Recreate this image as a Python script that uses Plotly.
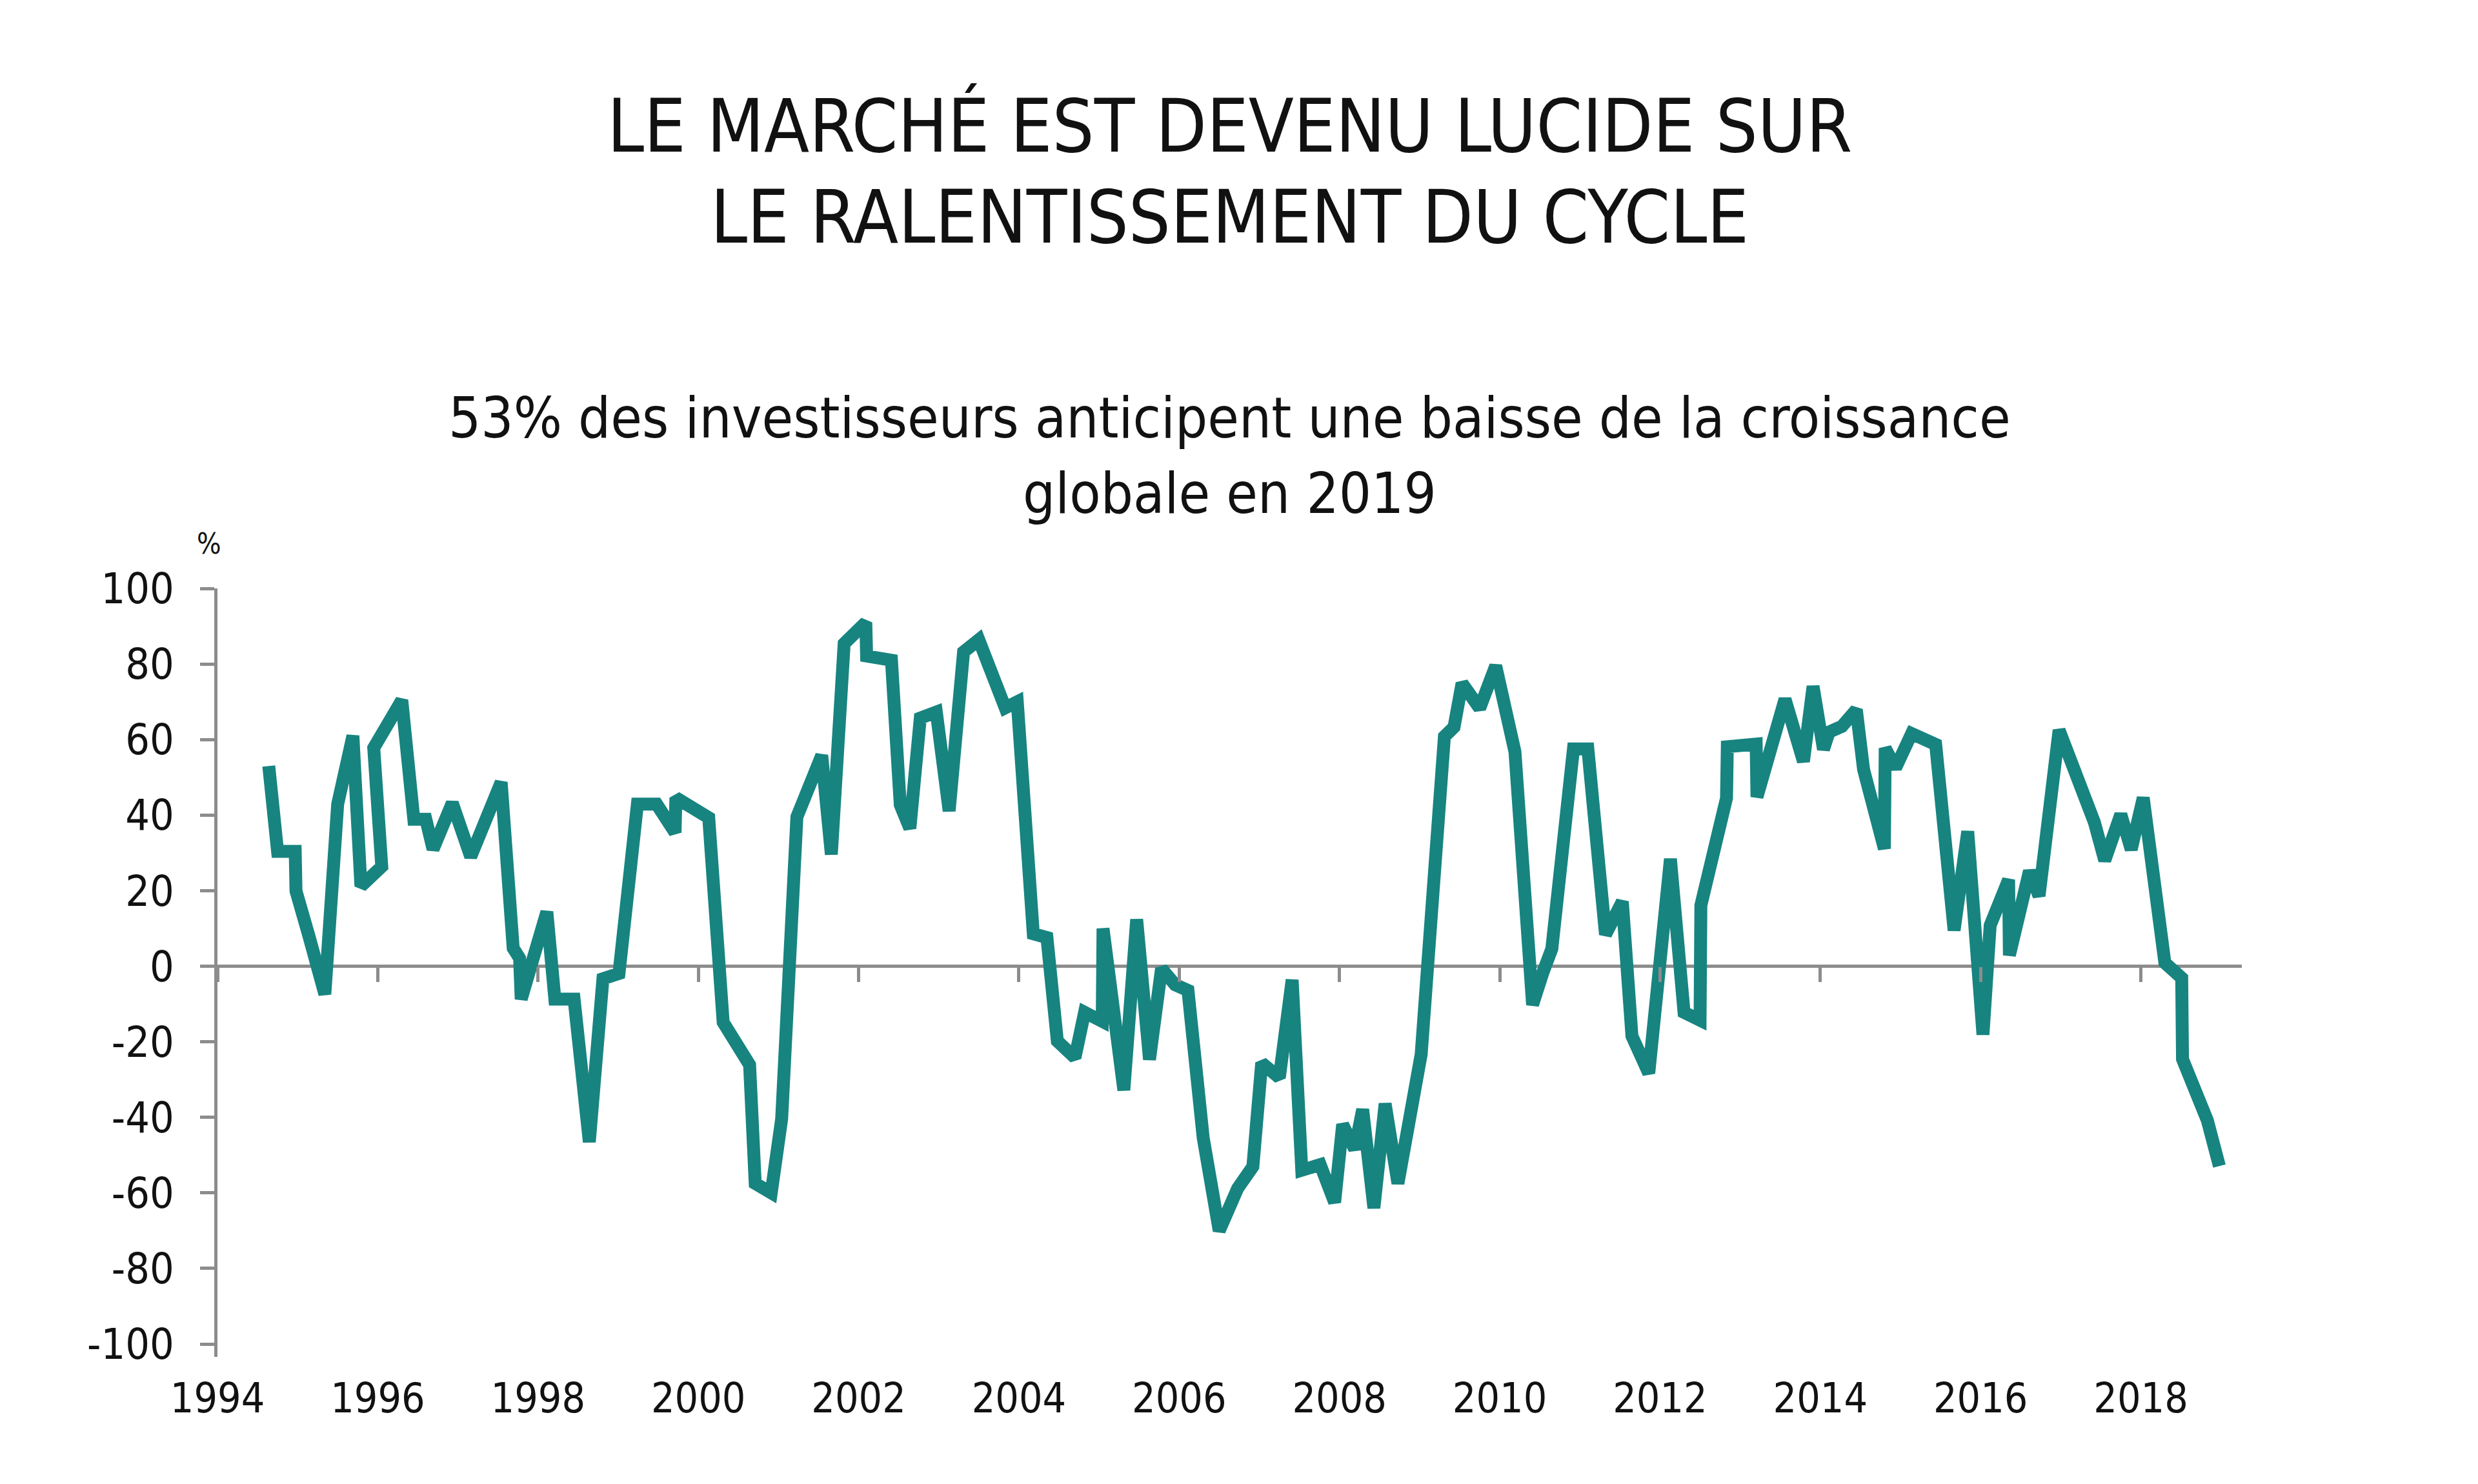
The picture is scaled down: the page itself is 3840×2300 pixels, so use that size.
import plotly.graph_objects as go

# Données (solde net en %, années décimales)
annees = [
    1994.64, 1994.75, 1994.97, 1994.98, 1995.14, 1995.34, 1995.50, 1995.69, 1995.79, 1996.05,
    1995.95, 1996.30, 1996.45, 1996.60, 1996.69, 1996.93, 1997.16, 1997.54, 1997.69, 1997.77,
    1997.79, 1998.11, 1998.21, 1998.45, 1998.64, 1998.81, 1999.01, 1999.24, 1999.48, 1999.71,
    1999.72, 2000.13, 2000.31, 2000.64, 2000.71, 2000.91, 2001.04, 2001.23, 2001.54, 2001.66,
    2001.82, 2002.09, 2002.10, 2002.41, 2002.52, 2002.64, 2002.77, 2002.97, 2003.13, 2003.31,
    2003.50, 2003.83, 2003.98, 2004.18, 2004.35, 2004.48, 2004.70, 2004.82, 2005.04, 2005.05,
    2005.31, 2005.47, 2005.63, 2005.78, 2005.95, 2006.11, 2006.30, 2006.50, 2006.73, 2006.92,
    2007.03, 2007.25, 2007.41, 2007.53, 2007.76, 2007.94, 2008.04, 2008.19, 2008.29, 2008.43,
    2008.57, 2008.73, 2009.02, 2009.31, 2009.43, 2009.53, 2009.75, 2009.95, 2010.19, 2010.41,
    2010.54, 2010.65, 2010.92, 2011.10, 2011.32, 2011.53, 2011.65, 2011.86, 2012.13, 2012.30,
    2012.50, 2012.51, 2012.83, 2012.84, 2013.20, 2013.21, 2013.56, 2013.79, 2013.91, 2014.04,
    2014.11, 2014.27, 2014.45, 2014.54, 2014.80, 2014.81, 2014.94, 2015.14, 2015.44, 2015.67,
    2015.84, 2016.03, 2016.12, 2016.35, 2016.36, 2016.61, 2016.73, 2016.98, 2017.42, 2017.55,
    2017.75, 2017.88, 2018.03, 2018.30, 2018.51, 2018.52, 2018.83, 2018.98,
]
solde = [
    53.0, 30.4, 30.4, 19.9, 8.1, -7.4, 42.9, 61.0, 21.2, 26.4,
    57.8, 70.4, 38.9, 38.9, 31.0, 43.2, 29.0, 48.7, 4.8, 2.1,
    -8.7, 14.4, -8.7, -8.7, -46.5, -3.3, -1.9, 42.9, 42.9, 35.4,
    44.6, 39.3, -14.8, -26.1, -57.5, -60.0, -40.4, 39.5, 55.8, 29.6,
    85.4, 91.0, 82.1, 81.0, 42.7, 36.5, 65.7, 67.3, 41.1, 83.2,
    86.4, 68.4, 70.0, 8.6, 7.6, -19.8, -24.2, -12.2, -14.6, 10.0,
    -32.8, 12.4, -24.7, -0.6, -4.9, -6.4, -45.4, -70.0, -58.8, -53.0,
    -25.6, -29.5, -3.6, -54.0, -52.5, -62.5, -41.9, -48.4, -37.9, -64.0,
    -36.4, -57.5, -23.3, 60.8, 63.3, 74.9, 68.3, 79.5, 56.8, -10.2,
    -1.6, 4.6, 57.5, 57.5, 8.4, 17.1, -18.5, -28.3, 28.4, -12.2,
    -14.3, 16.1, 44.5, 58.1, 58.8, 44.8, 70.7, 54.2, 74.1, 57.4,
    62.0, 63.5, 67.9, 52.1, 31.1, 57.7, 52.5, 61.6, 58.7, 9.5,
    35.7, -18.1, 10.8, 22.9, 2.9, 25.2, 18.6, 62.5, 38.1, 28.0,
    40.2, 30.9, 44.6, 0.9, -3.1, -24.6, -40.8, -52.9,
]

y_ticks = [-100, -80, -60, -40, -20, 0, 20, 40, 60, 80, 100]
y_labels = [str(v) for v in y_ticks]  # tiret simple comme sur l'original

FONT = "DejaVu Sans Condensed, Liberation Sans Narrow, sans-serif"
GRIS = "#8c8c8c"
TEAL = "#178480"

fig = go.Figure()
fig.add_trace(go.Scatter(
    x=annees, y=solde, mode="lines",
    line=dict(color=TEAL, width=20),
    hoverinfo="x+y",
))
# trace invisible pour que l'axe des graduations sur le zéro soit dessiné
fig.add_trace(go.Scatter(
    x=annees[:1], y=solde[:1], xaxis="x2", mode="markers",
    marker=dict(opacity=0), hoverinfo="skip",
))

fig.update_layout(
    width=3840, height=2300,
    margin=dict(l=329, r=374, t=904, b=205),
    paper_bgcolor="white", plot_bgcolor="white",
    showlegend=False,
    font=dict(family=FONT, color="#111111"),
    xaxis=dict(
        range=[1994, 2019.26], tickmode="linear", tick0=1994, dtick=2,
        showgrid=False, zeroline=False, showline=False,
        ticks="outside", ticklen=8, tickcolor="rgba(0,0,0,0)",
        tickfont=dict(size=64, family=FONT, color="#111111"),
    ),
    # axe secondaire pour les graduations posées sur la ligne du zéro
    xaxis2=dict(
        overlaying="x", matches="x", anchor="free", position=103.4 / 203.4,
        side="bottom", tickmode="linear", tick0=1994, dtick=2,
        showgrid=False, zeroline=False, showline=False,
        ticks="outside", ticklen=23, tickwidth=5, tickcolor=GRIS,
        showticklabels=False,
    ),
    yaxis=dict(
        range=[-103.4, 100], tickmode="array", tickvals=y_ticks, ticktext=y_labels,
        showgrid=False, showline=True, linecolor=GRIS, linewidth=5,
        zeroline=True, zerolinecolor=GRIS, zerolinewidth=5,
        ticks="outside", ticklen=22, tickwidth=5, tickcolor=GRIS,
        ticklabelstandoff=27,
        tickfont=dict(size=66, family=FONT, color="#111111"),
    ),
)

titre = ["LE MARCHÉ EST DEVENU LUCIDE SUR", "LE RALENTISSEMENT DU CYCLE"]
sous_titre = ["53% des investisseurs anticipent une baisse de la croissance", "globale en 2019"]

for i, txt in enumerate(titre):
    fig.add_annotation(text=txt, xref="paper", yref="paper", x=0.5,
                       y=1 + (904 - (187 + 142 * i)) / 1191,
                       xanchor="center", yanchor="middle", showarrow=False,
                       font=dict(size=114, family=FONT, color="#111111"))
for i, txt in enumerate(sous_titre):
    fig.add_annotation(text=txt, xref="paper", yref="paper", x=0.5,
                       y=1 + (904 - (639 + 117 * i)) / 1191,
                       xanchor="center", yanchor="middle", showarrow=False,
                       font=dict(size=88, family=FONT, color="#111111"))

fig.add_annotation(text="%", xref="paper", yref="paper", x=-0.004, y=1.058,
                   xanchor="center", yanchor="middle", showarrow=False,
                   font=dict(size=44, family=FONT, color="#111111"))

fig.write_html("out.html")
